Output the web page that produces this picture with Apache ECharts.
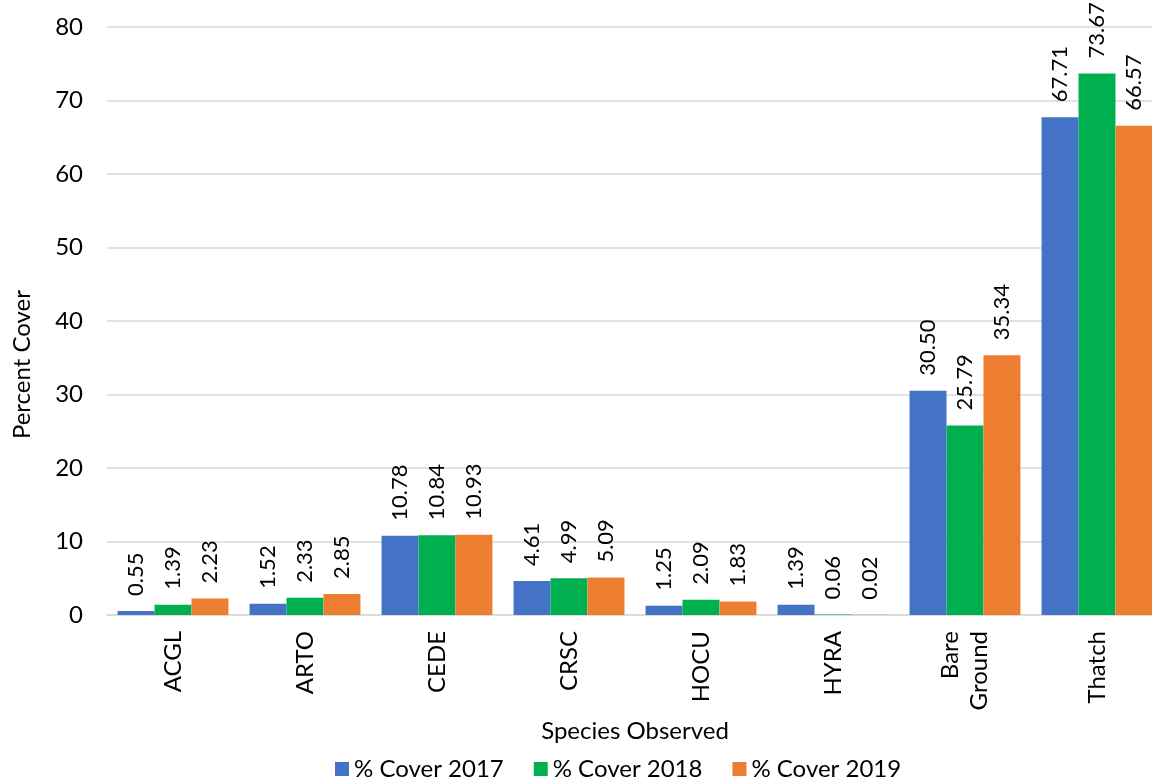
<!DOCTYPE html>
<html>
<head>
<meta charset="utf-8">
<script src="https://cdn.jsdelivr.net/npm/echarts@6/dist/echarts.min.js"></script>
<style>
  html, body { margin: 0; padding: 0; background: #fff; overflow: hidden; }
  #chart { width: 1163px; height: 778px; }
</style>
</head>
<body>
<div id="chart"></div>
<script>
var categories = ["ACGL", "ARTO", "CEDE", "CRSC", "HOCU", "HYRA", "Bare\nGround", "Thatch"];
var cover2017 = [0.55, 1.52, 10.78, 4.61, 1.25, 1.39, 30.50, 67.71];
var cover2018 = [1.39, 2.33, 10.84, 4.99, 2.09, 0.06, 25.79, 73.67];
var cover2019 = [2.23, 2.85, 10.93, 5.09, 1.83, 0.02, 35.34, 66.57];
var seriesNames = ["% Cover 2017", "% Cover 2018", "% Cover 2019"];
var colors = ["#4472C4", "#00B050", "#ED7D31"];

var font = "Lato, 'Open Sans', sans-serif";

function makeSeries(name, data, color) {
  return {
    name: name,
    type: "bar",
    barGap: 0,
    barCategoryGap: "16%",
    itemStyle: { color: color },
    label: {
      show: true,
      position: "top",
      rotate: 90,
      align: "left",
      verticalAlign: "middle",
      distance: 15,
      fontFamily: font,
      fontSize: 22,
      color: "#000",
      formatter: function (p) { return p.value.toFixed(2); }
    },
    data: data
  };
}

var chart = echarts.init(document.getElementById("chart"));
chart.setOption({
  animation: false,
  textStyle: { fontFamily: font },
  grid: { left: 107, right: 0, top: 27, bottom: 163 },
  legend: {
    top: 752,
    left: 330,
    itemWidth: 14,
    itemHeight: 14,
    itemGap: 30,
    icon: "rect",
    textStyle: { fontSize: 24, color: "#000", fontFamily: font },
    data: seriesNames
  },
  xAxis: {
    type: "category",
    data: categories,
    name: "Species Observed",
    nameLocation: "middle",
    nameGap: 104,
    nameTextStyle: { fontSize: 24, color: "#000", fontFamily: font },
    axisLine: { lineStyle: { color: "#d9d9d9", width: 1.5 } },
    axisTick: { show: false },
    axisLabel: {
      rotate: 90,
      fontSize: 24,
      color: "#000",
      margin: 16,
      lineHeight: 29,
      fontFamily: font
    }
  },
  yAxis: {
    type: "value",
    min: 0,
    max: 80,
    interval: 10,
    axisLine: { show: false },
    axisTick: { show: false },
    axisLabel: { fontSize: 24, color: "#000", margin: 24, fontFamily: font },
    splitLine: { lineStyle: { color: "#d9d9d9", width: 1.5 } }
  },
  graphic: [{
    type: "text",
    left: 10,
    top: 290,
    rotation: Math.PI / 2,
    style: { text: "Percent Cover", fontSize: 24, fill: "#000", fontFamily: font }
  }],
  series: [
    makeSeries(seriesNames[0], cover2017, colors[0]),
    makeSeries(seriesNames[1], cover2018, colors[1]),
    makeSeries(seriesNames[2], cover2019, colors[2])
  ]
});
</script>
</body>
</html>
